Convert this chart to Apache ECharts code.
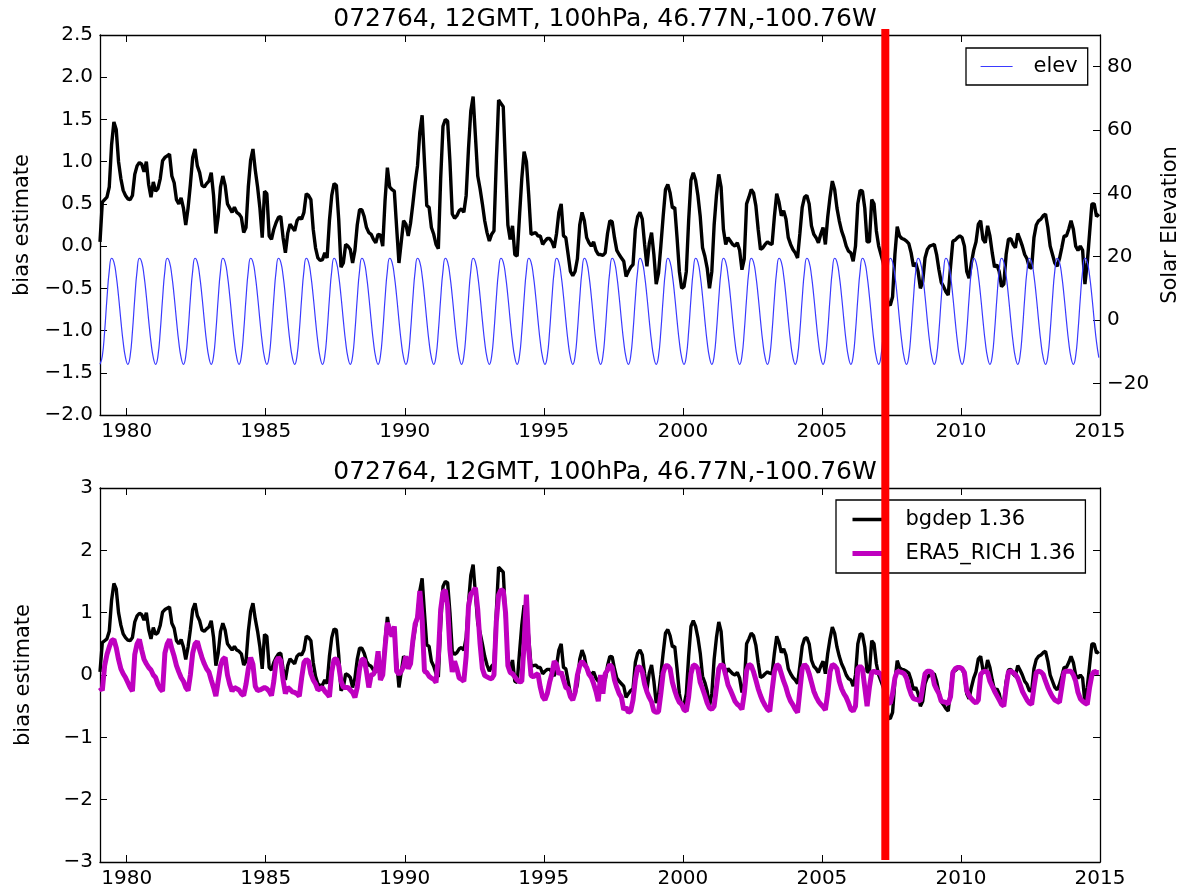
<!DOCTYPE html>
<html>
<head>
<meta charset="utf-8">
<script src="https://cdn.jsdelivr.net/npm/echarts@6/dist/echarts.min.js"></script>
<style>
  html, body { margin: 0; background: #fff; }
  #chart { width: 1181px; height: 894px; }
</style>
</head>
<body>
<div id="chart"></div>
<script>
const title = '072764, 12GMT, 100hPa, 46.77N,-100.76W';
const startYear = 1979;               // monthly values, Jan 1979 .. Dec 2014
const yearTicks = [1980, 1985, 1990, 1995, 2000, 2005, 2010, 2015];
const elevTicks = [-20, 0, 20, 40, 60, 80];
const redLineYear = 2007.28;

// bias estimate (bgdep), one row per year
const bgdep = [
  0.05, 0.52, 0.55, 0.58, 0.70, 1.20, 1.47, 1.38, 1.00, 0.80, 0.66, 0.60,
  0.56, 0.55, 0.60, 0.85, 0.95, 0.99, 0.97, 0.88, 1.00, 0.73, 0.58, 0.76,
  0.65, 0.68, 0.80, 1.01, 1.05, 1.07, 1.09, 0.83, 0.75, 0.55, 0.50, 0.57,
  0.45, 0.25, 0.45, 0.73, 1.05, 1.15, 0.95, 0.87, 0.72, 0.70, 0.74, 0.77,
  0.87, 0.60, 0.15, 0.35, 0.70, 0.83, 0.72, 0.50, 0.45, 0.40, 0.46, 0.40,
  0.38, 0.34, 0.16, 0.22, 0.70, 1.02, 1.15, 0.90, 0.70, 0.45, 0.10, 0.65,
  0.62, 0.12, 0.08, 0.20, 0.28, 0.34, 0.35, 0.10, -0.08, 0.15, 0.26, 0.22,
  0.18, 0.30, 0.34, 0.32, 0.40, 0.62, 0.60, 0.55, 0.20, -0.02, -0.14, -0.17,
  -0.16, -0.08, -0.14, 0.30, 0.60, 0.74, 0.72, 0.32, -0.25, -0.20, 0.02, 0.00,
  -0.04, -0.20, -0.05, 0.25, 0.43, 0.43, 0.35, 0.22, 0.16, 0.14, 0.08, 0.04,
  0.14, 0.13, 0.00, 0.54, 0.93, 0.70, 0.67, 0.65, 0.22, -0.20, 0.05, 0.30,
  0.26, 0.12, 0.27, 0.50, 0.75, 0.95, 1.35, 1.55, 1.00, 0.48, 0.46, 0.22,
  0.14, 0.02, -0.03, 0.80, 1.42, 1.50, 1.48, 1.00, 0.38, 0.33, 0.36, 0.42,
  0.44, 0.40, 0.60, 1.15, 1.60, 1.77, 1.30, 0.83, 0.68, 0.50, 0.30, 0.16,
  0.06, 0.14, 0.18, 1.00, 1.73, 1.69, 1.65, 0.93, 0.25, 0.08, 0.24, -0.10,
  -0.12, 0.35, 0.80, 1.12, 1.00, 0.60, 0.14, 0.15, 0.16, 0.12, 0.12, 0.02,
  0.06, 0.09, 0.09, 0.05, -0.02, 0.15, 0.40, 0.50, 0.12, 0.10, -0.10, -0.30,
  -0.35, -0.30, -0.15, 0.25, 0.40, 0.30, 0.10, 0.04, 0.00, 0.05, -0.05, -0.10,
  -0.10, -0.11, -0.08, 0.15, 0.30, 0.29, 0.10, -0.05, -0.10, -0.14, -0.18, -0.36,
  -0.30, -0.25, -0.22, 0.20, 0.35, 0.40, 0.32, 0.02, -0.24, 0.03, 0.16, -0.10,
  -0.45, -0.32, 0.00, 0.35, 0.67, 0.73, 0.63, 0.45, 0.46, 0.10, -0.30, -0.50,
  -0.48, -0.30, 0.30, 0.78, 0.87, 0.78, 0.60, 0.35, -0.02, -0.12, -0.26, -0.50,
  -0.30, 0.25, 0.60, 0.85, 0.70, 0.20, 0.02, 0.10, 0.06, 0.02, 0.00, 0.04,
  -0.05, -0.28, -0.15, 0.50, 0.58, 0.67, 0.63, 0.48, 0.20, -0.04, -0.02, 0.02,
  0.05, 0.03, 0.02, 0.35, 0.62, 0.52, 0.36, 0.42, 0.32, 0.10, 0.02, -0.04,
  -0.08, -0.14, 0.15, 0.46, 0.58, 0.60, 0.50, 0.24, 0.14, 0.10, 0.04, 0.14,
  0.22, 0.02, 0.34, 0.58, 0.77, 0.67, 0.45, 0.30, 0.18, 0.10, 0.00, -0.06,
  -0.08, -0.18, 0.00, 0.50, 0.66, 0.65, 0.45, 0.05, 0.05, 0.55, 0.50, 0.18,
  0.00, -0.10, -0.20, -0.40, -0.68, -0.70, -0.60, -0.10, 0.23, 0.12, 0.09, 0.08,
  0.06, 0.03, -0.08, -0.24, -0.20, -0.30, -0.50, -0.42, -0.14, -0.04, 0.00, 0.01,
  0.02, -0.10, -0.28, -0.43, -0.48, -0.54, -0.58, -0.25, 0.06, 0.07, 0.10, 0.12,
  0.10, 0.00, -0.30, -0.38, -0.20, -0.05, 0.05, 0.26, 0.30, 0.08, 0.04, 0.24,
  0.12, -0.08, -0.25, -0.22, -0.30, -0.48, -0.45, -0.10, 0.08, 0.09, 0.02, -0.02,
  0.15, 0.08, 0.00, -0.10, -0.15, -0.25, -0.26, 0.10, 0.25, 0.30, 0.32, 0.36,
  0.38, 0.22, 0.00, -0.10, -0.20, -0.24, -0.15, -0.02, 0.12, 0.12, 0.20, 0.30,
  0.20, 0.00, -0.05, 0.00, -0.05, -0.45, -0.20, 0.15, 0.50, 0.50, 0.35, 0.38
];

// ERA5_RICH bias estimate
const era5Rich = [
  -0.20, -0.25, 0.15, 0.33, 0.45, 0.55, 0.57, 0.44, 0.25, 0.10, 0.02, -0.04,
  -0.12, -0.20, -0.26, 0.33, 0.50, 0.57, 0.40, 0.25, 0.18, 0.12, 0.08, 0.00,
  -0.04, -0.15, -0.22, -0.26, 0.35, 0.50, 0.57, 0.42, 0.30, 0.15, 0.05, -0.04,
  -0.10, -0.20, -0.25, 0.00, 0.35, 0.50, 0.54, 0.40, 0.28, 0.18, 0.10, 0.05,
  -0.08, -0.20, -0.34, -0.10, 0.15, 0.25, 0.28, 0.00, -0.15, -0.26, -0.20, -0.22,
  -0.24, -0.30, -0.33, -0.15, 0.10, 0.28, 0.17, -0.18, -0.25, -0.24, -0.22, -0.20,
  -0.22, -0.26, -0.33, -0.10, 0.22, 0.28, 0.23, -0.08, -0.30, -0.20, -0.23, -0.27,
  -0.28, -0.30, -0.34, -0.05, 0.20, 0.25, 0.22, 0.02, -0.08, -0.14, -0.24, -0.22,
  -0.20, -0.26, -0.30, -0.35, 0.05, 0.25, 0.26, 0.15, -0.10, -0.20, -0.20, -0.20,
  -0.24, -0.28, -0.36, -0.20, 0.10, 0.25, 0.25, 0.05, -0.20, 0.00, 0.01, 0.10,
  0.38, -0.08, 0.00, 0.45, 0.84, 0.72, 0.62, 0.78, 0.06, 0.01, 0.06, 0.14,
  0.30, 0.10, 0.18, 0.55, 0.82, 0.92, 1.35, 0.90, 0.06, 0.04, -0.02, -0.05,
  -0.07, -0.12, 0.30, 1.05, 1.33, 1.36, 1.10, 0.40, 0.05, 0.22, 0.10, -0.05,
  -0.07, -0.10, 0.30, 1.10, 1.30, 1.34, 1.40, 1.05, 0.50, 0.10, -0.01, -0.03,
  -0.05, -0.06, 0.00, 0.85, 1.28, 1.37, 1.35, 1.00, 0.15, 0.04, 0.02, -0.03,
  -0.08, -0.11, -0.10, 0.50, 1.29, 0.40, -0.01, -0.03, 0.00, 0.02, -0.20, -0.35,
  -0.40, -0.30, -0.12, 0.02, 0.22, 0.17, 0.01, 0.05, -0.08, -0.20, -0.22, -0.35,
  -0.40, -0.28, 0.00, 0.15, 0.22, 0.17, 0.12, 0.01, -0.04, -0.14, -0.26, -0.42,
  0.00, -0.30, 0.02, 0.08, 0.17, 0.12, -0.08, -0.20, -0.30, -0.36, -0.56, -0.52,
  -0.60, -0.58, -0.40, -0.08, 0.12, 0.13, 0.05, -0.15, -0.27, -0.36, -0.43, -0.58,
  -0.60, -0.59, -0.30, 0.03, 0.15, 0.15, 0.10, -0.12, -0.25, -0.36, -0.44, -0.47,
  -0.56, -0.58, -0.35, 0.02, 0.16, 0.15, 0.10, -0.12, -0.22, -0.33, -0.45, -0.53,
  -0.55, -0.50, -0.20, 0.10, 0.17, 0.14, 0.00, -0.16, -0.24, -0.33, -0.42, -0.47,
  -0.50, -0.55, -0.30, 0.07, 0.17, 0.15, 0.05, -0.08, -0.22, -0.33, -0.42, -0.49,
  -0.55, -0.58, -0.25, 0.05, 0.17, 0.14, 0.02, -0.10, -0.20, -0.33, -0.42, -0.48,
  -0.55, -0.60, -0.25, 0.10, 0.17, 0.13, 0.02, -0.12, -0.26, -0.35, -0.42, -0.47,
  -0.51, -0.56, -0.30, 0.05, 0.17, 0.15, 0.10, -0.10, -0.22, -0.30, -0.36, -0.45,
  -0.55, -0.58, -0.50, 0.10, 0.14, 0.10, -0.20, -0.50, -0.20, 0.04, 0.06, 0.04,
  0.04, 0.01, -0.10, -0.30, -0.45, -0.45, -0.30, -0.05, 0.06, 0.05, 0.04, 0.02,
  -0.05, -0.20, -0.31, -0.38, -0.39, -0.40, -0.42, -0.20, 0.02, 0.06, 0.06, 0.04,
  -0.15, -0.23, -0.30, -0.42, -0.43, -0.44, -0.46, -0.35, 0.04, 0.10, 0.12, 0.12,
  0.10, 0.04, -0.25, -0.33, -0.38, -0.42, -0.45, -0.40, 0.01, 0.05, 0.06, 0.04,
  -0.10, -0.18, -0.26, -0.33, -0.40, -0.47, -0.50, -0.20, 0.05, 0.06, 0.04, 0.01,
  -0.05, -0.15, -0.26, -0.33, -0.40, -0.45, -0.47, -0.20, 0.04, 0.06, 0.05, 0.01,
  -0.10, -0.20, -0.28, -0.35, -0.40, -0.42, -0.44, -0.20, 0.05, 0.06, 0.06, 0.06,
  0.00, -0.10, -0.28, -0.38, -0.42, -0.45, -0.47, -0.20, 0.00, 0.06, 0.04, 0.04
];

// solar elevation at 12 GMT, degrees
const elev = [
  -14.0, -11.4, -3.6, 6.8, 15.5, 19.5, 18.3, 14.0, 7.5, -0.1, -7.0, -11.9,
  -14.0, -11.4, -3.6, 6.8, 15.5, 19.5, 18.3, 14.0, 7.5, -0.1, -7.0, -11.9,
  -14.0, -11.4, -3.6, 6.8, 15.5, 19.5, 18.3, 14.0, 7.5, -0.1, -7.0, -11.9,
  -14.0, -11.4, -3.6, 6.8, 15.5, 19.5, 18.3, 14.0, 7.5, -0.1, -7.0, -11.9,
  -14.0, -11.4, -3.6, 6.8, 15.5, 19.5, 18.3, 14.0, 7.5, -0.1, -7.0, -11.9,
  -14.0, -11.4, -3.6, 6.8, 15.5, 19.5, 18.3, 14.0, 7.5, -0.1, -7.0, -11.9,
  -14.0, -11.4, -3.6, 6.8, 15.5, 19.5, 18.3, 14.0, 7.5, -0.1, -7.0, -11.9,
  -14.0, -11.4, -3.6, 6.8, 15.5, 19.5, 18.3, 14.0, 7.5, -0.1, -7.0, -11.9,
  -14.0, -11.4, -3.6, 6.8, 15.5, 19.5, 18.3, 14.0, 7.5, -0.1, -7.0, -11.9,
  -14.0, -11.4, -3.6, 6.8, 15.5, 19.5, 18.3, 14.0, 7.5, -0.1, -7.0, -11.9,
  -14.0, -11.4, -3.6, 6.8, 15.5, 19.5, 18.3, 14.0, 7.5, -0.1, -7.0, -11.9,
  -14.0, -11.4, -3.6, 6.8, 15.5, 19.5, 18.3, 14.0, 7.5, -0.1, -7.0, -11.9,
  -14.0, -11.4, -3.6, 6.8, 15.5, 19.5, 18.3, 14.0, 7.5, -0.1, -7.0, -11.9,
  -14.0, -11.4, -3.6, 6.8, 15.5, 19.5, 18.3, 14.0, 7.5, -0.1, -7.0, -11.9,
  -14.0, -11.4, -3.6, 6.8, 15.5, 19.5, 18.3, 14.0, 7.5, -0.1, -7.0, -11.9,
  -14.0, -11.4, -3.6, 6.8, 15.5, 19.5, 18.3, 14.0, 7.5, -0.1, -7.0, -11.9,
  -14.0, -11.4, -3.6, 6.8, 15.5, 19.5, 18.3, 14.0, 7.5, -0.1, -7.0, -11.9,
  -14.0, -11.4, -3.6, 6.8, 15.5, 19.5, 18.3, 14.0, 7.5, -0.1, -7.0, -11.9,
  -14.0, -11.4, -3.6, 6.8, 15.5, 19.5, 18.3, 14.0, 7.5, -0.1, -7.0, -11.9,
  -14.0, -11.4, -3.6, 6.8, 15.5, 19.5, 18.3, 14.0, 7.5, -0.1, -7.0, -11.9,
  -14.0, -11.4, -3.6, 6.8, 15.5, 19.5, 18.3, 14.0, 7.5, -0.1, -7.0, -11.9,
  -14.0, -11.4, -3.6, 6.8, 15.5, 19.5, 18.3, 14.0, 7.5, -0.1, -7.0, -11.9,
  -14.0, -11.4, -3.6, 6.8, 15.5, 19.5, 18.3, 14.0, 7.5, -0.1, -7.0, -11.9,
  -14.0, -11.4, -3.6, 6.8, 15.5, 19.5, 18.3, 14.0, 7.5, -0.1, -7.0, -11.9,
  -14.0, -11.4, -3.6, 6.8, 15.5, 19.5, 18.3, 14.0, 7.5, -0.1, -7.0, -11.9,
  -14.0, -11.4, -3.6, 6.8, 15.5, 19.5, 18.3, 14.0, 7.5, -0.1, -7.0, -11.9,
  -14.0, -11.4, -3.6, 6.8, 15.5, 19.5, 18.3, 14.0, 7.5, -0.1, -7.0, -11.9,
  -14.0, -11.4, -3.6, 6.8, 15.5, 19.5, 18.3, 14.0, 7.5, -0.1, -7.0, -11.9,
  -14.0, -11.4, -3.6, 6.8, 15.5, 19.5, 18.3, 14.0, 7.5, -0.1, -7.0, -11.9,
  -14.0, -11.4, -3.6, 6.8, 15.5, 19.5, 18.3, 14.0, 7.5, -0.1, -7.0, -11.9,
  -14.0, -11.4, -3.6, 6.8, 15.5, 19.5, 18.3, 14.0, 7.5, -0.1, -7.0, -11.9,
  -14.0, -11.4, -3.6, 6.8, 15.5, 19.5, 18.3, 14.0, 7.5, -0.1, -7.0, -11.9,
  -14.0, -11.4, -3.6, 6.8, 15.5, 19.5, 18.3, 14.0, 7.5, -0.1, -7.0, -11.9,
  -14.0, -11.4, -3.6, 6.8, 15.5, 19.5, 18.3, 14.0, 7.5, -0.1, -7.0, -11.9,
  -14.0, -11.4, -3.6, 6.8, 15.5, 19.5, 18.3, 14.0, 7.5, -0.1, -7.0, -11.9,
  -14.0, -11.4, -3.6, 6.8, 15.5, 19.5, 18.3, 14.0, 7.5, -0.1, -7.0, -11.9
];

const font = 'DejaVu Sans';
const xMin = startYear + 0.5 / 12;
const toPoints = vals => vals.map((v, i) => [startYear + (i + 0.5) / 12, v]);
const minus = s => String(s).replace('-', '\u2212');

const chart = echarts.init(document.getElementById('chart'));

function xAx(gridIndex, position, showLabels) {
  return {
    type: 'value', gridIndex, position, min: xMin, max: 2015,
    axisLine: { onZero: false, lineStyle: { color: '#000', width: 1.3 } },
    axisTick: { inside: true, length: 7, customValues: yearTicks, lineStyle: { color: '#000' } },
    axisLabel: {
      show: showLabels, customValues: yearTicks, color: '#000',
      fontFamily: font, fontSize: 20, margin: 7, formatter: v => String(v)
    },
    splitLine: { show: false }
  };
}

function yAx(gridIndex, position, opts) {
  return Object.assign({
    type: 'value', gridIndex, position,
    axisLine: { onZero: false, lineStyle: { color: '#000', width: 1.3 } },
    axisTick: { inside: true, length: 7, lineStyle: { color: '#000' } },
    axisLabel: { color: '#000', fontFamily: font, fontSize: 20, margin: 7 },
    splitLine: { show: false },
    nameLocation: 'middle', nameRotate: 90,
    nameTextStyle: { color: '#000', fontFamily: font, fontSize: 21 }
  }, opts);
}

const titleStyle = { fontFamily: font, fontSize: 25, fontWeight: 'normal', color: '#000' };
const legendText = { fontFamily: font, fontSize: 21, color: '#000', padding: [0, 0, 0, 16] };

chart.setOption({
  animation: false,
  backgroundColor: '#fff',
  title: [
    { text: title, left: 600, top: 2, textAlign: 'center', textStyle: titleStyle },
    { text: title, left: 600, top: 455, textAlign: 'center', textStyle: titleStyle }
  ],
  grid: [
    { left: 100, right: 81, top: 35, height: 380, outerBoundsMode: 'none', containLabel: false },
    { left: 100, right: 81, top: 488, height: 374, outerBoundsMode: 'none', containLabel: false }
  ],
  legend: [
    {
      data: [{ name: 'elev', lineStyle: { width: 1.2 } }],
      left: 966, top: 48, orient: 'vertical',
      itemWidth: 32, itemHeight: 14, padding: [8, 10, 8, 14],
      itemStyle: { opacity: 0 },
      borderColor: '#000', borderWidth: 1.3, backgroundColor: '#fff',
      textStyle: legendText
    },
    {
      data: [
        { name: 'bgdep 1.36', lineStyle: { width: 3.4 } },
        { name: 'ERA5_RICH 1.36', lineStyle: { width: 5 } }
      ],
      left: 836, top: 500, orient: 'vertical',
      itemWidth: 32, itemHeight: 14, itemGap: 13, padding: [9, 10, 9, 14],
      itemStyle: { opacity: 0 },
      borderColor: '#000', borderWidth: 1.3, backgroundColor: '#fff',
      textStyle: legendText
    }
  ],
  xAxis: [xAx(0, 'bottom', true), xAx(0, 'top', false), xAx(1, 'bottom', true), xAx(1, 'top', false)],
  yAxis: [
    yAx(0, 'left', {
      min: -2, max: 2.5, interval: 0.5, name: 'bias estimate', nameGap: 66,
      axisLabel: { color: '#000', fontFamily: font, fontSize: 20, margin: 7, formatter: v => minus(v.toFixed(1)) }
    }),
    yAx(0, 'right', {
      min: -30, max: 90, name: 'Solar Elevation', nameGap: 56,
      axisTick: { inside: true, length: 7, customValues: elevTicks, lineStyle: { color: '#000' } },
      axisLabel: { color: '#000', fontFamily: font, fontSize: 20, margin: 7, customValues: elevTicks, formatter: v => minus(v) }
    }),
    yAx(1, 'left', {
      min: -3, max: 3, interval: 1, name: 'bias estimate', nameGap: 66,
      axisLabel: { color: '#000', fontFamily: font, fontSize: 20, margin: 7, formatter: v => minus(v) }
    }),
    yAx(1, 'right', { min: -3, max: 3, interval: 1, axisLabel: { show: false } })
  ],
  series: [
    {
      name: 'bgdep', type: 'line', xAxisIndex: 0, yAxisIndex: 0, data: toPoints(bgdep),
      symbol: 'none', lineStyle: { color: '#000', width: 3.4 }, itemStyle: { color: '#000' }
    },
    {
      name: 'elev', type: 'line', xAxisIndex: 0, yAxisIndex: 1, data: toPoints(elev),
      symbol: 'none', smooth: 0.5, lineStyle: { color: '#3a3aff', width: 1.2 }, itemStyle: { color: '#3a3aff' }
    },
    {
      name: 'bgdep 1.36', type: 'line', xAxisIndex: 2, yAxisIndex: 2, data: toPoints(bgdep),
      symbol: 'none', lineStyle: { color: '#000', width: 3.4 }, itemStyle: { color: '#000' }
    },
    {
      name: 'ERA5_RICH 1.36', type: 'line', xAxisIndex: 2, yAxisIndex: 2, data: toPoints(era5Rich),
      symbol: 'none', lineStyle: { color: '#bf00bf', width: 5 }, itemStyle: { color: '#bf00bf' }
    }
  ]
});

// red marker line across both panels
const rx = chart.convertToPixel({ xAxisIndex: 0 }, redLineYear);
const rTop = chart.convertToPixel({ yAxisIndex: 0 }, 2.5) - 6;
const rBottom = chart.convertToPixel({ yAxisIndex: 2 }, -3) - 2;
chart.setOption({
  graphic: [{
    type: 'line', z: 100,
    shape: { x1: rx, y1: rTop, x2: rx, y2: rBottom },
    style: { stroke: '#ff0000', lineWidth: 8 }
  }]
});
</script>
</body>
</html>
